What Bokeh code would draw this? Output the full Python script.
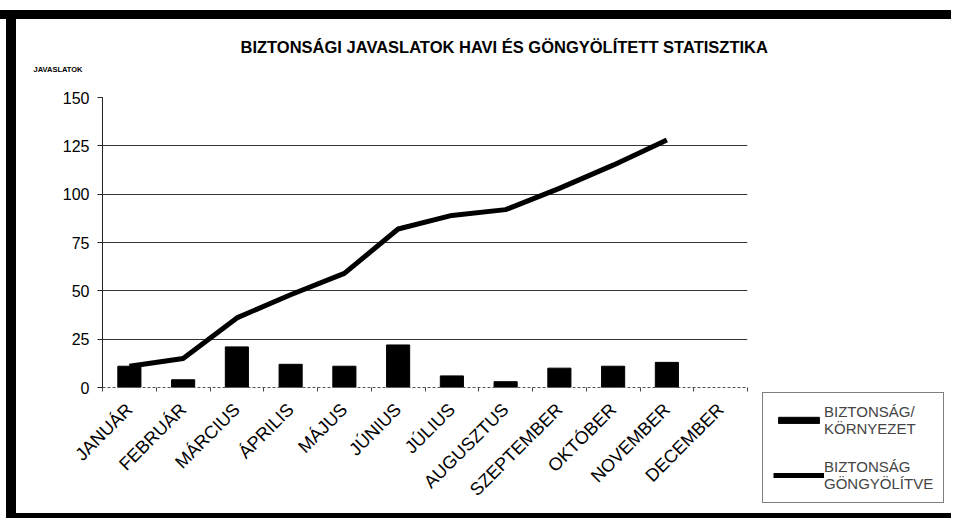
import numpy as np
from bokeh.plotting import figure
from bokeh.layouts import column, row, Spacer
from bokeh.models import (FixedTicker, Range1d, Legend, LegendItem, Title, ColumnDataSource)
from bokeh.embed import file_html
from bokeh.resources import INLINE

months = ["JANUÁR", "FEBRUÁR", "MÁRCIUS", "ÁPRILIS", "MÁJUS", "JÚNIUS",
          "JÚLIUS", "AUGUSZTUS", "SZEPTEMBER", "OKTÓBER", "NOVEMBER", "DECEMBER"]
monthly = [11, 4, 21, 12, 11, 22, 6, 3, 10, 11, 13]          # BIZTONSÁG/KÖRNYEZET
cumulative = [11, 15, 36, 48, 59, 82, 89, 92, 103, 115, 128]  # BIZTONSÁG GÖNGYÖLÍTVE
y_ticks = [0, 25, 50, 75, 100, 125, 150]

title_text = "BIZTONSÁGI JAVASLATOK HAVI ÉS GÖNGYÖLÍTETT STATISZTIKA"
y_title = "JAVASLATOK"
label_bar = "BIZTONSÁG/\nKÖRNYEZET"
label_line = "BIZTONSÁG\nGÖNGYÖLÍTVE"

FONT = "Liberation Sans"

n = len(months)
centers = list(np.arange(n) + 0.5)
bar_src = ColumnDataSource(dict(x=centers[:len(monthly)], top=monthly))
line_src = ColumnDataSource(dict(x=centers[:len(cumulative)], y=cumulative))

P_H = 494
p = figure(output_backend="svg", toolbar_location=None,
           x_range=Range1d(0, n), y_range=Range1d(0, 150),
           frame_width=645, frame_height=290,
           min_border_left=86, min_border_right=204, min_border_top=78,
           min_border_bottom=P_H - 78 - 290,
           background_fill_color="white", border_fill_color="white")
p.outline_line_color = None

bars = p.vbar(x="x", top="top", width=0.43, source=bar_src, fill_color="black", line_color="black")
line = p.line(x="x", y="y", source=line_src, line_width=5, line_color="black", line_join="round")

# y axis
p.yaxis.ticker = FixedTicker(ticks=y_ticks)
p.yaxis.major_tick_out = 5
p.yaxis.major_tick_in = 0
p.yaxis.minor_tick_line_color = None
p.yaxis.axis_line_color = "#222"
p.yaxis.major_tick_line_color = "#222"
p.yaxis.major_label_text_font = FONT
p.yaxis.major_label_text_font_size = "16px"
p.yaxis.major_label_text_color = "black"
p.yaxis.major_label_standoff = 8

# x axis: labels at month centres, ticks at month boundaries (minor ticks)
p.xaxis.ticker = FixedTicker(ticks=centers, minor_ticks=list(range(n + 1)))
p.xaxis.major_label_overrides = {c: m for c, m in zip(centers, months)}
p.xaxis.major_tick_out = 0
p.xaxis.major_tick_in = 0
p.xaxis.minor_tick_out = 4
p.xaxis.minor_tick_in = 0
p.xaxis.minor_tick_line_color = "#444"
p.xaxis.axis_line_color = "#555"
p.xaxis.axis_line_dash = "3 2"
p.xaxis.major_label_orientation = np.pi / 4
p.xaxis.major_label_text_font = FONT
p.xaxis.major_label_text_font_size = "18px"
p.xaxis.major_label_text_color = "black"
p.xaxis.major_label_standoff = 15

p.xgrid.grid_line_color = None
p.ygrid.ticker = FixedTicker(ticks=y_ticks)
p.ygrid.grid_line_color = "#333"
p.ygrid.grid_line_width = 1

# titles (first added sits nearest the plot area); the trailing empty lines
# keep the small axis caption well above the plot area
p.add_layout(Title(text=y_title + "\n\n", align="left", offset=-69, standoff=11,
                   text_font=FONT, text_font_size="7.5px", text_font_style="bold",
                   text_color="black"), "above")
p.add_layout(Title(text=title_text, align="left", offset=138, standoff=4,
                   text_font=FONT, text_font_size="16.5px", text_font_style="bold",
                   text_color="black"), "above")

legend = Legend(items=[LegendItem(label=label_bar, renderers=[bars]),
                       LegendItem(label=label_line, renderers=[line])],
                location=(15, -116))
legend.glyph_width = 51
legend.glyph_height = 8
legend.label_standoff = 0
legend.label_text_font = FONT
legend.label_text_font_size = "15px"
legend.padding = 10
legend.spacing = 21
legend.margin = 0
legend.border_line_color = "black"
legend.border_line_width = 1
legend.background_fill_alpha = 1
p.add_layout(legend, "right")

BLACK = {"background-color": "black"}
W = 951
top = column(Spacer(width=W, height=10), Spacer(width=W, height=9, styles=BLACK))
middle = row(Spacer(width=6, height=P_H),
             Spacer(width=10, height=P_H, styles=BLACK),
             p)
bottom = row(Spacer(width=6, height=5), Spacer(width=W - 6, height=5, styles=BLACK))

layout = column(top, middle, bottom)

open("out.html", "w").write(file_html(layout, INLINE))
